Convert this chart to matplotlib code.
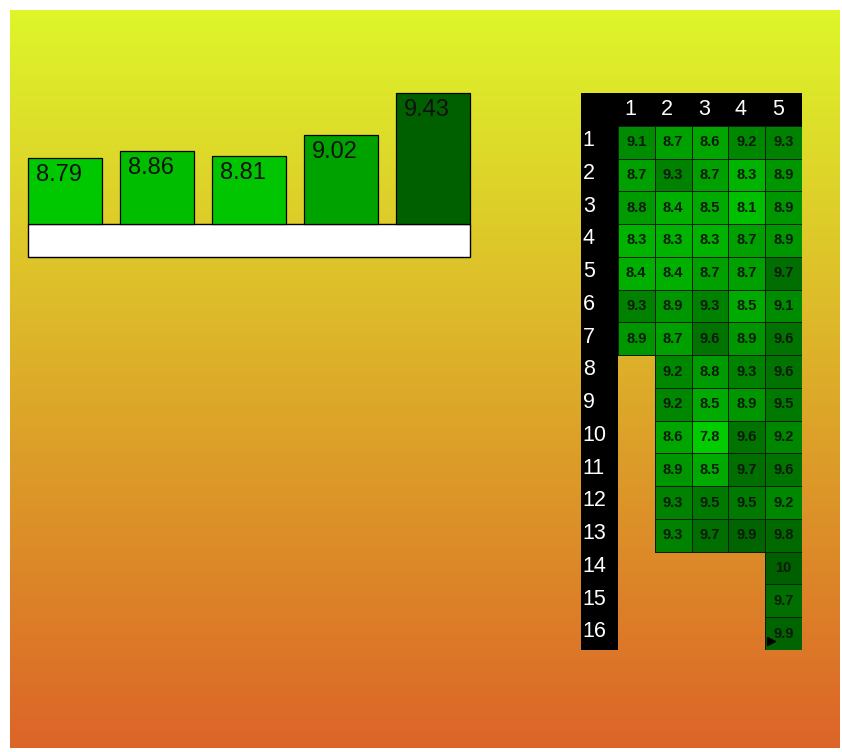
import matplotlib.pyplot as plt
import numpy as np
from matplotlib.colors import LinearSegmentedColormap, Normalize
from matplotlib.patches import Rectangle

# средние оценки по сезонам
seasons = [1, 2, 3, 4, 5]
season_avg = [8.79, 8.86, 8.81, 9.02, 9.43]
bar_base = 8.14

# оценки серий: столбец = сезон, строка = серия
s1 = [9.1, 8.7, 8.8, 8.3, 8.4, 9.3, 8.9]
s2 = [8.7, 9.3, 8.4, 8.3, 8.4, 8.9, 8.7, 9.2, 9.2, 8.6, 8.9, 9.3, 9.3]
s3 = [8.6, 8.7, 8.5, 8.3, 8.7, 9.3, 9.6, 8.8, 8.5, 7.8, 8.5, 9.5, 9.7]
s4 = [9.2, 8.3, 8.1, 8.7, 8.7, 8.5, 8.9, 9.3, 8.9, 9.6, 9.7, 9.5, 9.9]
s5 = [9.3, 8.9, 8.9, 8.9, 9.7, 9.1, 9.6, 9.6, 9.5, 9.2, 9.6, 9.2, 9.8, 10, 9.7, 9.9]
episodes = list(range(1, 17))

ep_list = [s1, s2, s3, s4, s5]
n_ep = max(len(s) for s in ep_list)

plt.rcParams['font.family'] = ['Liberation Sans', 'DejaVu Sans']
fig = plt.figure(figsize=(8.42, 7.52), dpi=100)
W, H = 842, 752


def box(x0, y0, x1, y1):
    return [x0 / W, 1 - y1 / H, (x1 - x0) / W, (y1 - y0) / H]


# фон-градиент
bg = fig.add_axes(box(10, 10, 840, 748))
top = np.array([222, 246, 42]) / 255
bot = np.array([220, 100, 40]) / 255
t = np.linspace(0, 1, 256)[:, None]
grad = top[None, :] * (1 - t) + bot[None, :] * t
bg.imshow(grad[:, None, :], aspect='auto', extent=[0, 1, 1, 0])
bg.axis('off')

# столбики
bar_cmap = LinearSegmentedColormap.from_list('g1', ['#00c800', '#006000'])
bar_norm = Normalize(min(season_avg), max(season_avg))
ax = fig.add_axes(box(28, 93, 470, 257))
ylo = bar_base - 0.325
ax.set_xlim(-0.4, len(seasons) - 0.6)
ax.set_ylim(ylo, max(season_avg))
ax.add_patch(Rectangle((-0.4, ylo), len(seasons) - 0.2, bar_base - ylo,
                       facecolor='white', edgecolor='black', linewidth=1, clip_on=False))
x = np.arange(len(seasons))
vals = np.array(season_avg)
ax.bar(x, vals - bar_base, bottom=bar_base, width=0.8,
       color=bar_cmap(bar_norm(vals)), edgecolor='black', linewidth=0.9, clip_on=False)
for xi, v in zip(x, season_avg):
    ax.annotate(f"{v:.2f}", (xi - 0.4, v), xytext=(8, -6), textcoords='offset pixels',
                ha='left', va='top', fontsize=17, color='#111111')
ax.axis('off')

# таблица серий
cell_cmap = LinearSegmentedColormap.from_list('g2', ['#00cc00', '#006000'])
hm = fig.add_axes(box(581, 93, 802, 650))
nc = len(ep_list)
hm.set_xlim(0, nc + 1)
hm.set_ylim(n_ep + 1, 0)
hm.axhspan(0, 1, color='black', lw=0)
hm.axvspan(0, 1, color='black', lw=0)
for j, s in enumerate(ep_list):
    col = np.array(s)[:, None]
    hm.pcolormesh([j + 1, j + 2], np.arange(1, len(s) + 2), col,
                  cmap=cell_cmap, vmin=7.8, vmax=10, edgecolors='#0a1f0a', linewidth=0.6)
    for i, v in enumerate(s):
        hm.text(j + 1.5, i + 1.5, f"{v:g}", ha='center', va='center',
                fontsize=10.5, fontweight='bold', color='#0c1a0c')
for j in seasons:
    hm.text(j + 0.18, 0.5, str(j), ha='left', va='center', fontsize=15.5, color='white')
for e in episodes:
    hm.text(0.05, e + 0.45, str(e), ha='left', va='center', fontsize=15.5, color='white')
# маленький треугольник в последней ячейке
hm.plot(nc + 0.15, len(s5) + 0.72, marker='>', color='black', markersize=6)
hm.axis('off')

plt.savefig("out.png", dpi=100)
